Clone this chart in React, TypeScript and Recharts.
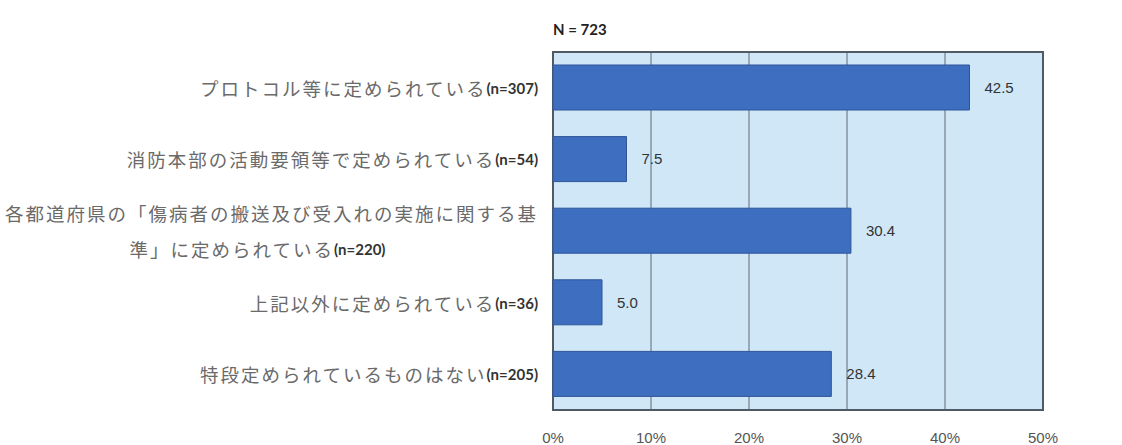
import React from 'react';
import { BarChart, Bar, XAxis, YAxis, CartesianGrid, LabelList, ReferenceArea } from 'recharts';

const categories = [
  'プロトコル等に定められている',
  '消防本部の活動要領等で定められている',
  '各都道府県の「傷病者の搬送及び受入れの実施に関する基準」に定められている',
  '上記以外に定められている',
  '特段定められているものはない',
];
const counts = [307, 54, 220, 36, 205];
const values = [42.5, 7.5, 30.4, 5.0, 28.4];
const xTicks = [0, 10, 20, 30, 40, 50];
const totalLabel = 'N = 723';

const data = categories.map((name, i) => ({ name, value: values[i], n: counts[i] }));

const JP_SIZE = 18.5;
const JP_SPACING = 2;
const WRAP_AT = 26;
const LABEL_GAP = 15;

const jpStyle = { fill: '#6a6a6a', fontSize: JP_SIZE, letterSpacing: JP_SPACING, fontFamily: '"Noto Sans CJK JP", sans-serif' };
const nStyle = { fill: '#333', fontSize: 15, fontWeight: 700, fontFamily: 'Lato, "Liberation Sans", sans-serif', letterSpacing: 0 };

const YTick = (props: any) => {
  const { x, y, payload } = props;
  const name: string = payload.value;
  const i = categories.indexOf(name);
  const nText = `(n=${counts[i]})`;
  const rx = x - LABEL_GAP;
  if (name.length > WRAP_AT) {
    const l1 = name.slice(0, WRAP_AT);
    const l2 = name.slice(WRAP_AT);
    const w1 = l1.length * (JP_SIZE + JP_SPACING);
    const cx = rx - w1 / 2 - 14;
    return (
      <g>
        <text x={rx} y={y - 18} textAnchor="end" dominantBaseline="central">
          <tspan style={jpStyle}>{l1}</tspan>
        </text>
        <text x={cx} y={y + 18} textAnchor="middle" dominantBaseline="central">
          <tspan style={jpStyle}>{l2}</tspan>
          <tspan style={nStyle}>{nText}</tspan>
        </text>
      </g>
    );
  }
  return (
    <text x={rx} y={y} textAnchor="end" dominantBaseline="central">
      <tspan style={jpStyle}>{name}</tspan>
      <tspan style={nStyle}>{nText}</tspan>
    </text>
  );
};

const XTick = (props: any) => {
  const { x, y, payload } = props;
  return (
    <text x={x} y={y + 27} textAnchor="middle" dominantBaseline="central"
      style={{ fill: '#555', fontSize: 15, fontFamily: '"Liberation Sans", sans-serif' }}>
      {`${payload.value}%`}
    </text>
  );
};

export default function App() {
  return (
    <div style={{ position: 'absolute', left: 0, top: 0, width: 1122, height: 445, background: '#fff' }}>
      <div style={{ position: 'absolute', left: 553, top: 20, fontSize: 15, fontWeight: 700, color: '#222', fontFamily: 'Lato, "Liberation Sans", sans-serif' }}>
        {totalLabel}
      </div>
      <BarChart
        width={1122}
        height={445}
        data={data}
        layout="vertical"
        margin={{ top: 52, right: 79, bottom: 5, left: 0 }}
      >
        <CartesianGrid
          horizontal={false}
          vertical={true}
          fill="#cfe7f7"
          fillOpacity={1}
          stroke="#5f6b75"
          strokeWidth={1}
        />
        <XAxis
          type="number"
          domain={[0, 50]}
          ticks={xTicks}
          height={30}
          axisLine={false}
          tickLine={false}
          tickSize={0}
          tickMargin={0}
          tick={<XTick />}
          interval={0}
        />
        <YAxis
          type="category"
          dataKey="name"
          width={553}
          axisLine={false}
          tickLine={false}
          tickSize={0}
          tickMargin={0}
          tick={<YTick />}
          interval={0}
        />
        <Bar dataKey="value" fill="#3e6ec0" stroke="#2f5597" strokeWidth={1} barSize={45} isAnimationActive={false}>
          <LabelList
            dataKey="value"
            position="right"
            offset={15}
            formatter={(v: any) => Number(v).toFixed(1)}
            style={{ fill: '#333', fontSize: 15, fontFamily: '"Liberation Sans", sans-serif' }}
          />
        </Bar>
        <ReferenceArea
          x1={0}
          x2={50}
          fill="none"
          fillOpacity={0}
          stroke="#4f5a64"
          strokeWidth={2}
          ifOverflow="visible"
        />
      </BarChart>
    </div>
  );
}
